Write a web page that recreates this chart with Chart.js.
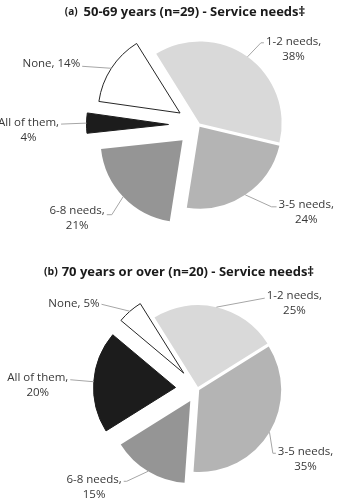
<!DOCTYPE html>
<html>
<head>
<meta charset="utf-8">
<script src="https://cdn.jsdelivr.net/npm/chart.js@4.4.0/dist/chart.umd.min.js"></script>
<style>
html, body { margin: 0; padding: 0; background: #fff; }
.painel { width: 340px; height: 250px; }
canvas { display: block; }
</style>
</head>
<body>
<div class="painel"><canvas id="graficoA" width="340" height="250"></canvas></div>
<div class="painel"><canvas id="graficoB" width="340" height="250"></canvas></div>
<script>
// dados
const categorias = ['1-2 needs', '3-5 needs', '6-8 needs', 'All of them', 'None'];
const valores5069 = [38, 24, 21, 4, 14];
const valores70 = [25, 35, 15, 20, 5];
const tituloA = ['(a)', '50-69 years (n=29) - Service needs‡'];
const tituloB = ['(b)', '70 years or over (n=20) - Service needs‡'];

const cores = ['#d9d9d9', '#b4b4b4', '#959595', '#1c1c1c', '#ffffff'];
const bordas = ['#ffffff', '#ffffff', '#ffffff', '#1c1c1c', '#262626'];
const larguraBorda = [0, 0, 0, 1, 1];
const fonte = '"Open Sans", Lato, sans-serif';

// afastamento de cada fatia (px) e posicao dos rotulos em relacao ao ponto do arco
const afastamentoA = [2, 2, 22, 30, 22];
const afastamentoB = [2, 2, 14, 22, 21];
const rotulosA = [
    { dx: 46, dy: -8, ly: -6, cotovelo: 3, linhas: 2 },
    { dx: 61, dy: 17, ly: -5, cotovelo: 5, linhas: 2 },
    { dx: -46, dy: 22, ly: -4, cotovelo: 5, linhas: 2 },
    { dx: -58, dy: 7, ly: -6, cotovelo: 0, linhas: 2 },
    { dx: -60, dy: -5, ly: 3, cotovelo: 0, linhas: 1 }
];
const rotulosB = [
    { dx: 78, dy: -4, ly: -5, cotovelo: 0, linhas: 2 },
    { dx: 36, dy: 27, ly: -6, cotovelo: 3, linhas: 2 },
    { dx: -54, dy: 16, ly: -6, cotovelo: 3, linhas: 2 },
    { dx: -56, dy: 3, ly: -5, cotovelo: 0, linhas: 2 },
    { dx: -56, dy: -8, ly: 1, cotovelo: 0, linhas: 1 }
];

const pluginExplode = {
    id: 'explode',
    afterDatasetUpdate(chart, args, opcoes) {
        args.meta.data.forEach((arco, i) => {
            const meio = (arco.startAngle + arco.endAngle) / 2;
            const d = opcoes.distancias[i] || 0;
            arco.x += Math.cos(meio) * d;
            arco.y += Math.sin(meio) * d;
        });
    }
};

const pluginRotulos = {
    id: 'rotulos',
    afterDatasetsDraw(chart, args, opcoes) {
        const ctx = chart.ctx;
        const meta = chart.getDatasetMeta(0);
        const valores = chart.data.datasets[0].data;
        ctx.save();
        ctx.font = '11.5px ' + fonte;
        ctx.textAlign = 'center';
        ctx.textBaseline = 'middle';
        meta.data.forEach((arco, i) => {
            const pos = opcoes.posicoes[i];
            const meio = (arco.startAngle + arco.endAngle) / 2;
            const px = arco.x + Math.cos(meio) * arco.outerRadius;
            const py = arco.y + Math.sin(meio) * arco.outerRadius;
            const cx = px + pos.dx;
            const cy = py + pos.dy;
            let linhas;
            if (pos.linhas === 2) {
                linhas = [chart.data.labels[i] + ',', valores[i] + '%'];
            } else {
                linhas = [chart.data.labels[i] + ', ' + valores[i] + '%'];
            }
            const largura = Math.max(...linhas.map(l => ctx.measureText(l).width));
            const lado = pos.dx > 0 ? -1 : 1;
            const bordaX = cx + lado * (largura / 2 + 2);
            const ay = cy + pos.ly;
            ctx.strokeStyle = '#a6a6a6';
            ctx.lineWidth = 1;
            ctx.beginPath();
            ctx.moveTo(px, py);
            ctx.lineTo(bordaX + lado * pos.cotovelo, ay);
            ctx.lineTo(bordaX, ay);
            ctx.stroke();
            ctx.fillStyle = '#383838';
            const alt = 15;
            linhas.forEach((l, k) => {
                ctx.fillText(l, cx, cy + (k - (linhas.length - 1) / 2) * alt);
            });
        });
        ctx.restore();
    }
};

const pluginTitulo = {
    id: 'tituloMisto',
    afterDraw(chart, args, opcoes) {
        const ctx = chart.ctx;
        ctx.save();
        ctx.fillStyle = '#1a1a1a';
        ctx.textBaseline = 'middle';
        ctx.textAlign = 'left';
        const f1 = 'bold ' + opcoes.tam[0] + 'px ' + fonte;
        const f2 = 'bold ' + opcoes.tam[1] + 'px ' + fonte;
        ctx.font = f1;
        const w1 = ctx.measureText(opcoes.texto[0]).width;
        ctx.font = f2;
        const w2 = ctx.measureText(opcoes.texto[1]).width;
        const total = w1 + opcoes.espaco + w2;
        let x = opcoes.x - total / 2;
        ctx.font = f1;
        ctx.fillText(opcoes.texto[0], x, opcoes.y + 0.5);
        x += w1 + opcoes.espaco;
        ctx.font = f2;
        ctx.fillText(opcoes.texto[1], x, opcoes.y);
        ctx.restore();
    }
};

function criaPizza(id, valores, afastamento, rotulos, titulo, tituloPos, padding) {
    return new Chart(document.getElementById(id), {
        type: 'pie',
        data: {
            labels: categorias,
            datasets: [{
                data: valores,
                backgroundColor: cores,
                borderColor: bordas,
                borderWidth: larguraBorda
            }]
        },
        options: {
            responsive: false,
            animation: false,
            events: [],
            rotation: -32,
            radius: 82,
            layout: { padding: padding },
            plugins: {
                legend: { display: false },
                tooltip: { enabled: false },
                explode: { distancias: afastamento },
                rotulos: { posicoes: rotulos },
                tituloMisto: {
                    texto: titulo, x: tituloPos[0], y: tituloPos[1],
                    espaco: tituloPos[2], tam: tituloPos[3]
                }
            }
        },
        plugins: [pluginExplode, pluginRotulos, pluginTitulo]
    });
}

criaPizza('graficoA', valores5069, afastamentoA, rotulosA, tituloA, [185, 12, 6, [10, 13]],
    { left: 57, right: 0, top: 0, bottom: 0 });
criaPizza('graficoB', valores70, afastamentoB, rotulosB, tituloB, [179, 22, 4, [10.5, 13]],
    { left: 55, right: 0, top: 28, bottom: 0 });
</script>
</body>
</html>
